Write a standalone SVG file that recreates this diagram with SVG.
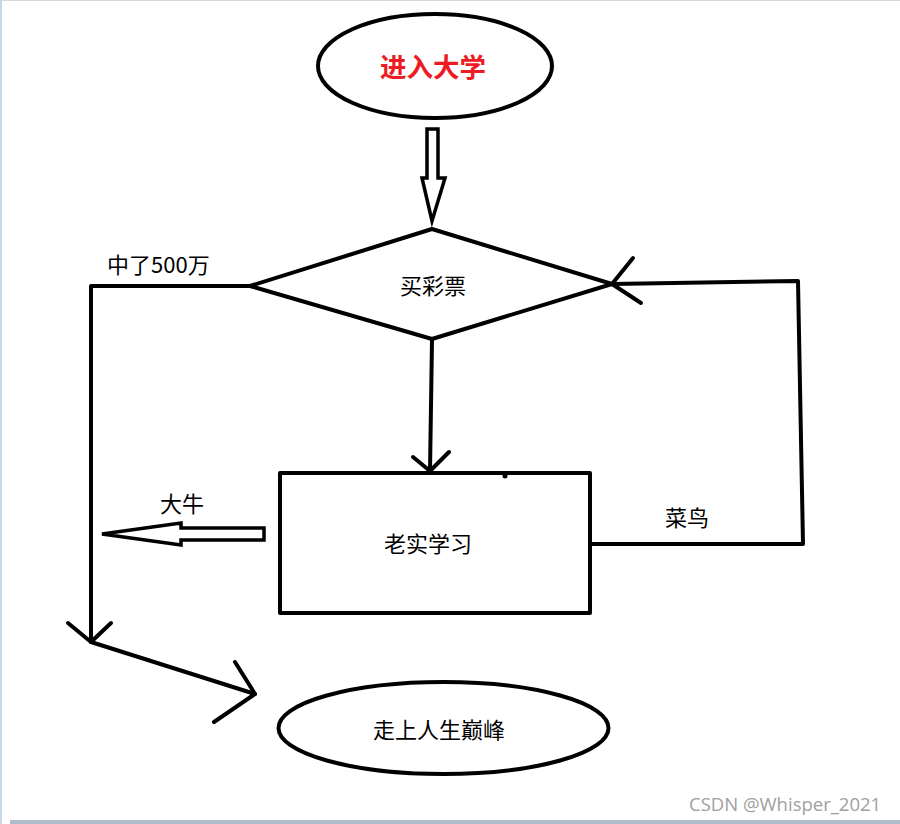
<svg xmlns="http://www.w3.org/2000/svg" width="900" height="824" viewBox="0 0 900 824">
<style>
.s{fill:none;stroke:#000;stroke-width:4;stroke-linecap:round;stroke-linejoin:round}
.h{fill:#fff;stroke:#000;stroke-width:3.5;stroke-linejoin:miter}
.t{font-family:"Microsoft YaHei","Noto Sans CJK SC","Noto Sans",sans-serif;font-size:22px;fill:#000}
</style>
<rect x="0" y="0" width="900" height="824" fill="#fff"/>
<rect x="0" y="0" width="900" height="1" fill="#d8d8d8"/>
<rect x="0" y="0" width="2" height="824" fill="#c9d6e8"/>
<rect x="10" y="820" width="890" height="4" fill="#afbccc"/>
<g id="start">
<ellipse class="s" cx="435" cy="66" rx="117" ry="52"/>
<text class="t" x="433" y="77" text-anchor="middle" style="font-size:26.5px;font-weight:bold;fill:#ed1c24">进入大学</text>
</g>
<g id="lottery">
<polygon class="s" points="432,229 612,284 432,339 250,286"/>
<text class="t" x="433" y="294" text-anchor="middle">买彩票</text>
</g>
<g id="study">
<rect class="s" x="280" y="473" width="310" height="140" stroke-linecap="butt" stroke-linejoin="miter"/>
<circle cx="505" cy="476" r="2.5"/>
<text class="t" x="428" y="552" text-anchor="middle">老实学习</text>
</g>
<g id="peak">
<ellipse class="s" cx="443.5" cy="728" rx="165" ry="46"/>
<text class="t" x="439" y="738" text-anchor="middle">走上人生巅峰</text>
</g>
<g id="connectors">
<polygon class="h" points="427,129 438,129 438,178 445,178 432,221 422,178 427,178"/>
<polyline class="s" points="250,286 91,286 91,642"/>
<polyline class="s" points="68,623 91,642 111,623"/>
<polyline class="s" points="91,642 255,694"/>
<polyline class="s" points="235,662 255,694 214,722"/>
<line class="s" x1="432" y1="340" x2="430" y2="471"/>
<polyline class="s" points="413,457 430,471 449,452"/>
<polyline class="s" points="590,544 803,544 798,281 612,284"/>
<polyline class="s" points="633,258 612,284 641,303"/>
<polygon class="h" points="102,534 181,523 181,528 264,528 264,540 181,540 181,545"/>
</g>
<g id="labels">
<text class="t" x="107" y="273">中了500万</text>
<text class="t" x="160" y="512">大牛</text>
<text class="t" x="665" y="526">菜鸟</text>
</g>
<text x="689" y="811" style="font-family:'Open Sans','Noto Sans',sans-serif;font-size:18.5px;fill:#a0a0a0">CSDN @Whisper_2021</text>
</svg>
